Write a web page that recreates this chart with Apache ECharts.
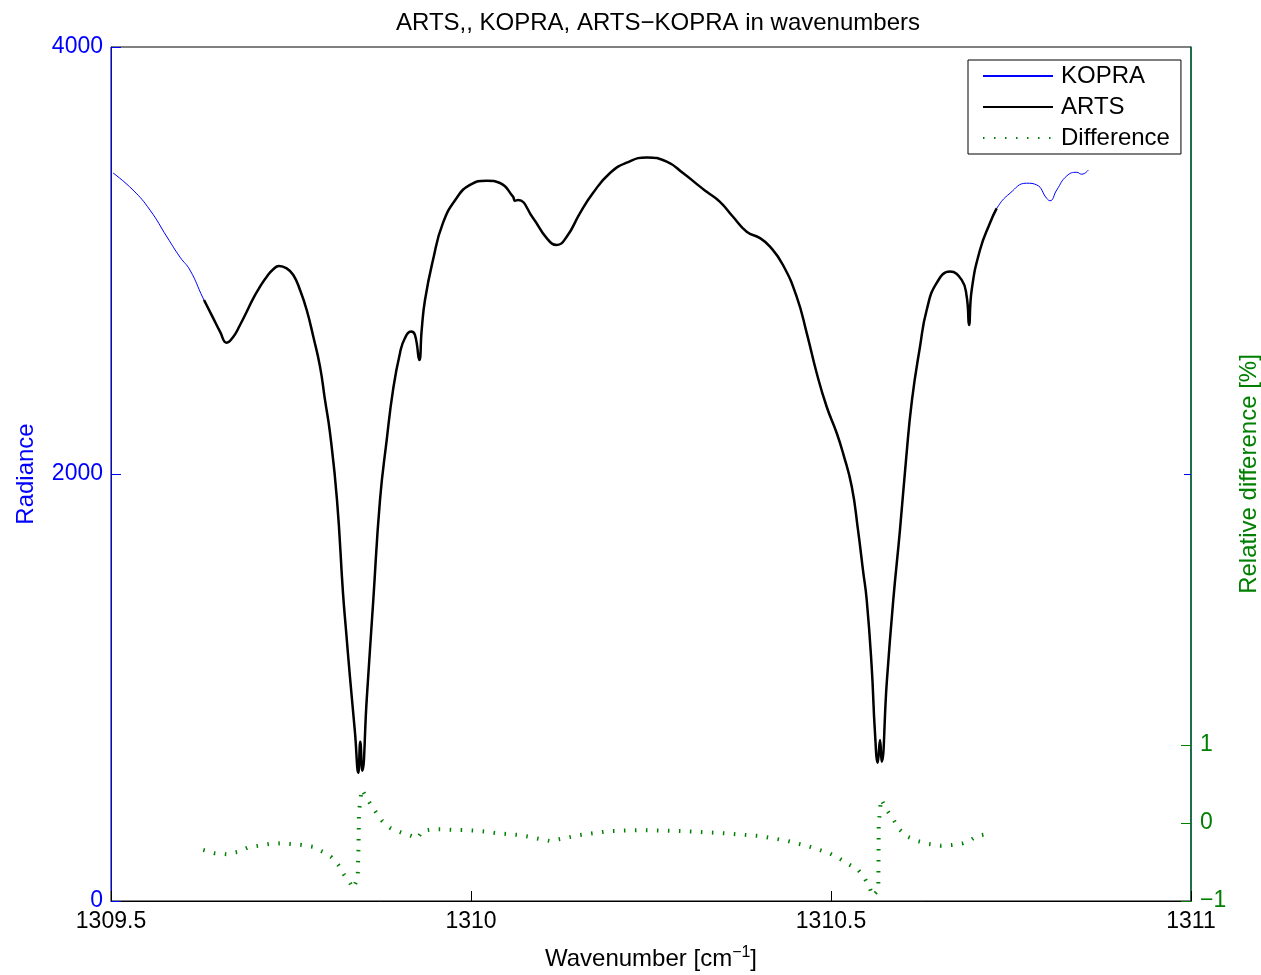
<!DOCTYPE html>
<html>
<head>
<meta charset="utf-8">
<title>ARTS, KOPRA, ARTS-KOPRA</title>
<script src="https://cdn.jsdelivr.net/npm/echarts@6/dist/echarts.min.js"></script>
<style>
  html, body { margin: 0; padding: 0; background: #fff; }
  #chart { width: 1261px; height: 975px; }
</style>
</head>
<body>
<div id="chart"></div>
<script>
// wavenumber [cm^-1] / radiance
let kopraWn = [1309.5028, 1309.5306, 1309.5542, 1309.5778, 1309.5958, 1309.6097, 1309.6278,
  1309.6421, 1309.6514, 1309.6607, 1309.6699, 1309.6792, 1309.6885, 1309.6976, 1309.7069, 1309.7163,
  1309.7254, 1309.7333, 1309.7440, 1309.7532, 1309.7625, 1309.7718, 1309.7810, 1309.7903, 1309.7972,
  1309.8042, 1309.8139, 1309.8222, 1309.8264, 1309.8319, 1309.8389, 1309.8435,
  1309.8462, 1309.8490, 1309.8551, 1309.8643, 1309.8736, 1309.8829, 1309.8917, 1309.9014, 1309.9083,
  1309.9167, 1309.9222, 1309.9282, 1309.9315, 1309.9361, 1309.9472, 1309.9611, 1309.9801, 1309.9986,
  1310.0218, 1310.0403, 1310.0583, 1310.0611, 1310.0653, 1310.0861, 1310.1051, 1310.1190, 1310.1329,
  1310.1514, 1310.1694, 1310.1931, 1310.2163, 1310.2440, 1310.2718, 1310.2944, 1310.3181, 1310.3274,
  1310.3458, 1310.3639, 1310.3829, 1310.4014, 1310.4153, 1310.4333, 1310.4524, 1310.4663, 1310.4801,
  1310.4940, 1310.5079, 1310.5167, 1310.5288, 1310.5375, 1310.5444, 1310.5496, 1310.5565, 1310.5611,
  1310.5649, 1310.5681, 1310.5704, 1310.5774, 1310.5865, 1310.5958, 1310.6042, 1310.6125, 1310.6236,
  1310.6329, 1310.6468, 1310.6653, 1310.6815, 1310.6885, 1310.6917, 1310.6954, 1310.7069, 1310.7208,
  1310.7301, 1310.7486, 1310.7718, 1310.7857, 1310.7996, 1310.8042, 1310.8135, 1310.8274, 1310.8413,
  1310.8482, 1310.8574];
let kopraRad = [3410, 3330, 3236, 3110, 3016, 2955, 2824,
  2729, 2667, 2615, 2643, 2698, 2760, 2823, 2877, 2924,
  2959, 2974, 2963, 2932, 2862, 2768, 2643, 2503, 2347,
  2192, 1878, 1443, 1269, 1049, 787, 601,
  746, 610, 941, 1410, 1878, 2159, 2393, 2567, 2637,
  2667, 2651, 2534, 2674, 2815, 3002, 3176, 3293, 3354,
  3374, 3363, 3299, 3280, 3283, 3199, 3105, 3073, 3111,
  3222, 3316, 3410, 3458, 3483, 3463, 3410, 3346, 3322,
  3275, 3205, 3135, 3105, 3065, 2979, 2830, 2660, 2473,
  2315, 2192, 2098, 1941, 1738, 1550, 1410, 1097, 787,
  648, 754, 652, 1021, 1410, 1738, 2066, 2347, 2596,
  2768, 2895, 2948, 2909, 2830, 2698, 2862, 3049, 3176,
  3244, 3315, 3362, 3354, 3291, 3280, 3330, 3396, 3413,
  3404, 3424];

let artsWn = [1309.6292, 1309.6421, 1309.6514, 1309.6607, 1309.6699, 1309.6792, 1309.6885, 1309.6976,
  1309.7069, 1309.7163, 1309.7254, 1309.7333, 1309.7440, 1309.7532, 1309.7625, 1309.7718, 1309.7810,
  1309.7903, 1309.7972, 1309.8042, 1309.8139, 1309.8222, 1309.8264, 1309.8319,
  1309.8389, 1309.8435, 1309.8462, 1309.8490, 1309.8551, 1309.8643, 1309.8736, 1309.8829, 1309.8917,
  1309.9014, 1309.9083, 1309.9167, 1309.9222, 1309.9282, 1309.9315, 1309.9361, 1309.9472, 1309.9611,
  1309.9801, 1309.9986, 1310.0218, 1310.0403, 1310.0583, 1310.0611, 1310.0653, 1310.0861, 1310.1051,
  1310.1190, 1310.1329, 1310.1514, 1310.1694, 1310.1931, 1310.2163, 1310.2440, 1310.2718, 1310.2944,
  1310.3181, 1310.3274, 1310.3458, 1310.3639, 1310.3829, 1310.4014, 1310.4153, 1310.4333, 1310.4524,
  1310.4663, 1310.4801, 1310.4940, 1310.5079, 1310.5167, 1310.5288, 1310.5375, 1310.5444, 1310.5496,
  1310.5565, 1310.5611, 1310.5649, 1310.5681, 1310.5704, 1310.5774, 1310.5865, 1310.5958, 1310.6042,
  1310.6125, 1310.6236, 1310.6329, 1310.6468, 1310.6653, 1310.6815, 1310.6885, 1310.6917, 1310.6954,
  1310.7069, 1310.7208, 1310.7301];
let artsRad = [2815, 2729, 2667, 2615, 2643, 2698, 2760, 2823,
  2877, 2924, 2959, 2974, 2963, 2932, 2862, 2768, 2643,
  2503, 2347, 2192, 1878, 1443, 1269, 1049,
  787, 601, 746, 610, 941, 1410, 1878, 2159, 2393,
  2567, 2637, 2667, 2651, 2534, 2674, 2815, 3002, 3176,
  3293, 3354, 3374, 3363, 3299, 3280, 3283, 3199, 3105,
  3073, 3111, 3222, 3316, 3410, 3458, 3483, 3463, 3410,
  3346, 3322, 3275, 3205, 3135, 3105, 3065, 2979, 2830,
  2660, 2473, 2315, 2192, 2098, 1941, 1738, 1550, 1410,
  1097, 787, 648, 754, 652, 1021, 1410, 1738, 2066,
  2347, 2596, 2768, 2895, 2948, 2909, 2830, 2698, 2862,
  3049, 3176, 3244];

// relative difference [%]
let diffWn = [1309.6282, 1309.6444, 1309.6607, 1309.6768, 1309.6907, 1309.7056, 1309.7199, 1309.7347,
  1309.7500, 1309.7649, 1309.7801, 1309.7940, 1309.8065, 1309.8157, 1309.8240, 1309.8296, 1309.8365,
  1309.8426, 1309.8438, 1309.8444, 1309.8482, 1309.8528, 1309.8597, 1309.8681, 1309.8768, 1309.8885,
  1309.9024, 1309.9163, 1309.9254, 1309.9329, 1309.9476, 1309.9615, 1309.9768, 1309.9917, 1310.0069,
  1310.0218, 1310.0371, 1310.0681, 1310.1097, 1310.1514, 1310.1931, 1310.2347, 1310.2903, 1310.3458,
  1310.4014, 1310.4385, 1310.4524, 1310.4671, 1310.4815, 1310.4976, 1310.5115, 1310.5240, 1310.5371,
  1310.5463, 1310.5532, 1310.5579, 1310.5657, 1310.5660, 1310.5663, 1310.5694, 1310.5782, 1310.5865,
  1310.5949, 1310.6065, 1310.6190, 1310.6361, 1310.6524, 1310.6676, 1310.6829, 1310.6954, 1310.7024,
  1310.7153];
let diffVal = [-0.346, -0.388, -0.401, -0.368, -0.312, -0.291, -0.269, -0.260,
  -0.269, -0.282, -0.304, -0.368, -0.440, -0.538, -0.667, -0.731, -0.837,
  -0.705, -0.282, 0.141, 0.432, 0.359, 0.253, 0.137, 0.026, -0.068,
  -0.119, -0.163, -0.196, -0.099, -0.081, -0.081, -0.090, -0.090, -0.099,
  -0.112, -0.132, -0.154, -0.231, -0.154, -0.103, -0.090, -0.103, -0.128,
  -0.167, -0.227, -0.260, -0.295, -0.337, -0.388, -0.453, -0.526, -0.594,
  -0.701, -0.817, -0.936, -0.859, -0.436, -0.013, 0.308, 0.158, 0.047,
  -0.081, -0.176, -0.227, -0.269, -0.291, -0.282, -0.260, -0.209, -0.167,
  -0.145];

let radianceTicks = [0, 2000, 4000];
let diffTicks = [-1, 0, 1];

let zip = (xs, ys) => xs.map((x, i) => [x, ys[i]]);
// plain numbers, MATLAB style (no thousands separator, real minus sign)
let plain = v => (v < 0 ? '\u2212' + Math.abs(v) : '' + v);

let font = '"Liberation Sans", Arial, Helvetica, sans-serif';
let blue = '#0000ff';
let green = '#008000';

let chart = echarts.init(document.getElementById('chart'));

let option = {
  animation: false,
  backgroundColor: '#ffffff',
  textStyle: { fontFamily: font },
  title: {
    text: 'ARTS,, KOPRA, ARTS\u2212KOPRA in wavenumbers',
    left: 653,
    textAlign: 'center',
    top: 6,
    textStyle: { fontFamily: font, fontSize: 24, fontWeight: 'normal', color: '#000' }
  },
  legend: {
    orient: 'vertical',
    left: 968,
    top: 60,
    padding: [4, 11, 4, 14],
    itemGap: 7,
    itemWidth: 70,
    itemHeight: 14,
    backgroundColor: '#fff',
    borderColor: '#000',
    borderWidth: 1,
    borderRadius: 0,
    itemStyle: { opacity: 0 },
    textStyle: { fontFamily: font, fontSize: 24, color: '#000', padding: [0, 0, 0, 3] },
    data: ['KOPRA', 'ARTS', 'Difference']
  },
  grid: {
    left: 111,
    right: 70,
    top: 47,
    bottom: 74,
    outerBoundsMode: 'none',
    show: true,
    borderColor: '#000',
    borderWidth: 1
  },
  xAxis: {
    type: 'value',
    min: 1309.5,
    max: 1311,
    interval: 0.5,
    name: 'Wavenumber [cm{sup|\u22121}]',
    nameLocation: 'middle',
    nameGap: 44,
    nameTextStyle: {
      fontFamily: font, fontSize: 24, color: '#000',
      rich: { sup: { fontFamily: font, fontSize: 16, color: '#000', padding: [0, 0, 12, 0] } }
    },
    axisLine: { show: true, lineStyle: { color: '#000', width: 1 } },
    axisTick: { show: true, inside: true, length: 10, lineStyle: { color: '#000' } },
    axisLabel: { fontFamily: font, fontSize: 23, color: '#000', margin: 9, formatter: plain },
    splitLine: { show: false }
  },
  yAxis: [
    {
      type: 'value',
      position: 'left',
      min: 0,
      max: 4000,
      interval: 2000,
      name: 'Radiance',
      nameLocation: 'middle',
      nameGap: 73,
      nameTextStyle: { fontFamily: font, fontSize: 24, color: blue },
      axisLine: { show: true, lineStyle: { color: blue, width: 1 } },
      axisTick: { show: true, inside: true, length: 10, customValues: radianceTicks, lineStyle: { color: blue } },
      axisLabel: { fontFamily: font, fontSize: 23, color: blue, margin: 8, customValues: radianceTicks, formatter: plain },
      splitLine: { show: false }
    },
    {
      type: 'value',
      position: 'right',
      min: -1,
      max: 9.95,
      name: 'Relative difference [%]',
      nameLocation: 'middle',
      nameGap: 44,
      nameTextStyle: { fontFamily: font, fontSize: 24, color: green },
      axisLine: { show: true, lineStyle: { color: '#006a3a', width: 1.5 } },
      axisTick: { show: true, inside: true, length: 10, customValues: diffTicks, lineStyle: { color: green, width: 1 } },
      axisLabel: { fontFamily: font, fontSize: 23, color: green, margin: 9, customValues: diffTicks, formatter: plain },
      splitLine: { show: false }
    },
    {
      // mirrored radiance tick on the right edge of the box
      type: 'value',
      position: 'right',
      offset: 0,
      min: 0,
      max: 4000,
      axisLine: { show: false },
      axisTick: { show: true, inside: true, length: 7, customValues: [2000], lineStyle: { color: blue } },
      axisLabel: { show: false },
      splitLine: { show: false }
    }
  ],
  series: [
    {
      name: 'KOPRA',
      type: 'line',
      yAxisIndex: 0,
      data: zip(kopraWn, kopraRad),
      symbol: 'none',
      smooth: 0.5,
      lineStyle: { color: blue, width: 1 },
      itemStyle: { color: blue },
      z: 2
    },
    {
      name: 'ARTS',
      type: 'line',
      yAxisIndex: 0,
      data: zip(artsWn, artsRad),
      symbol: 'none',
      smooth: 0.5,
      lineStyle: { color: '#000', width: 2.5 },
      itemStyle: { color: '#000' },
      z: 3
    },
    {
      name: 'Difference',
      type: 'line',
      yAxisIndex: 1,
      data: zip(diffWn, diffVal),
      symbol: 'none',
      lineStyle: { color: green, width: 4, type: [1.5, 9.5] },
      itemStyle: { color: green },
      z: 4
    }
  ]
};

chart.setOption(option);
</script>
</body>
</html>
